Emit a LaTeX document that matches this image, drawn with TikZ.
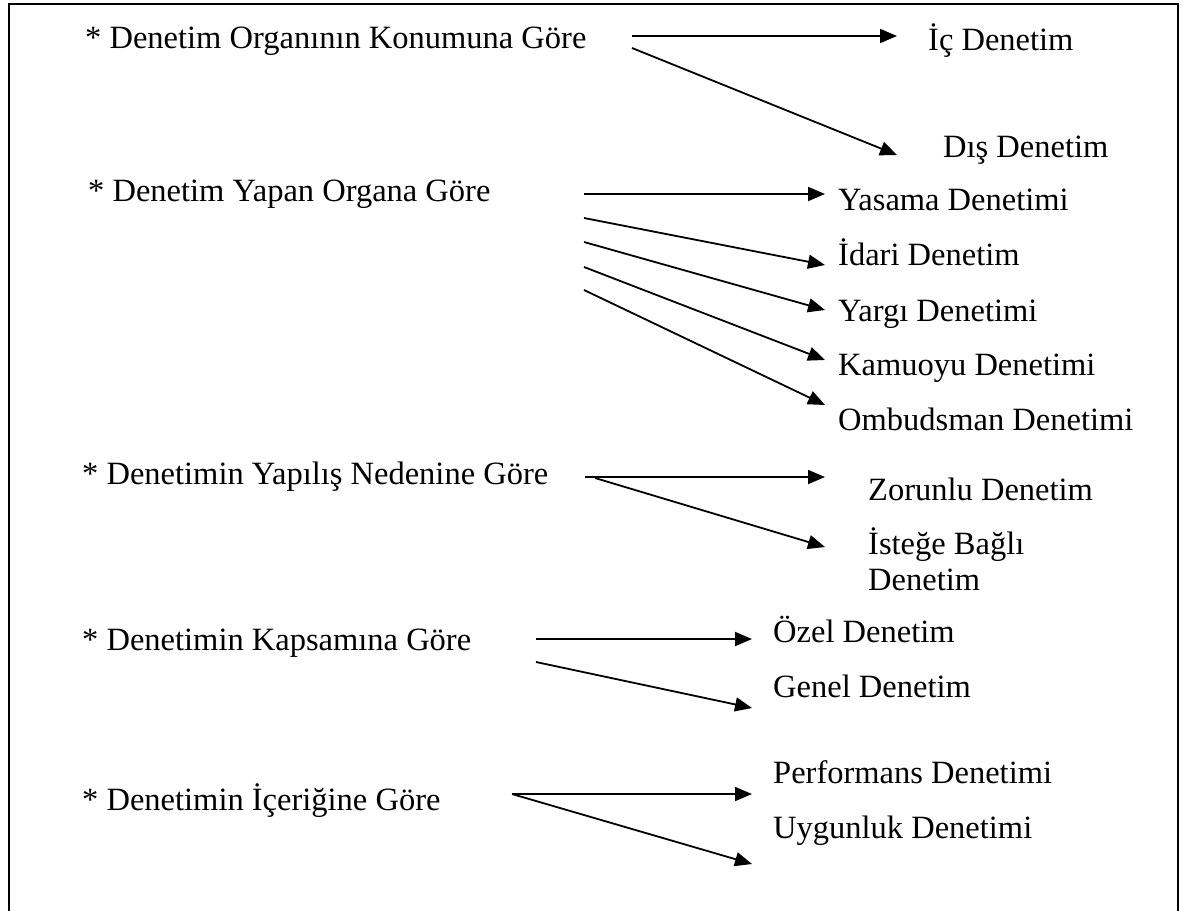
\documentclass[tikz,border=0pt]{standalone}
\usepackage{fontspec}
\setmainfont{Liberation Serif}
\usetikzlibrary{arrows.meta}
\begin{document}
\begin{tikzpicture}[x=1pt,y=-1pt,
  lbl/.style={anchor=base west,inner sep=0pt,font=\fontsize{32.5}{36}\selectfont},
  arr/.style={line width=1.8pt,-{Triangle[length=17pt,width=14pt]}},
  frame/.style={line width=1.6pt}]
\useasboundingbox (0,0) rectangle (1185,910);
\draw[frame] (9,915) -- (9,4) -- (1178,4) -- (1178,915);
% left labels
\node[lbl] (k1) at (85,48) {* Denetim Organının Konumuna Göre};
\node[lbl] (k2) at (88,201) {* Denetim Yapan Organa Göre};
\node[lbl] (k3) at (82,484) {* Denetimin Yapılış Nedenine Göre};
\node[lbl] (k4) at (82,650) {* Denetimin Kapsamına Göre};
\node[lbl] (k5) at (82,810) {* Denetimin İçeriğine Göre};
% right labels
\node[lbl] (r11) at (928,50) {İç Denetim};
\node[lbl] (r12) at (943,157) {Dış Denetim};
\node[lbl] (r21) at (838,210) {Yasama Denetimi};
\node[lbl] (r22) at (838,265) {İdari Denetim};
\node[lbl] (r23) at (838,321) {Yargı Denetimi};
\node[lbl] (r24) at (838,375) {Kamuoyu Denetimi};
\node[lbl] (r25) at (838,430) {Ombudsman Denetimi};
\node[lbl] (r31) at (868,500) {Zorunlu Denetim};
\node[lbl,align=left] (r32) at (868,590) {İsteğe Bağlı\\Denetim};
\node[lbl] (r41) at (773,642) {Özel Denetim};
\node[lbl] (r42) at (773,697) {Genel Denetim};
\node[lbl] (r51) at (773,783) {Performans Denetimi};
\node[lbl] (r52) at (773,838) {Uygunluk Denetimi};
% arrow coordinates
\coordinate (s11) at (632,36);  \coordinate (e11) at (897,36);
\coordinate (s12) at (632,48);  \coordinate (e12) at (897,155);
\coordinate (s21) at (584,194); \coordinate (e21) at (825,194);
\coordinate (s22) at (584,218); \coordinate (e22) at (825,265);
\coordinate (s23) at (584,242); \coordinate (e23) at (825,310);
\coordinate (s24) at (584,267); \coordinate (e24) at (825,360);
\coordinate (s25) at (584,290); \coordinate (e25) at (825,405);
\coordinate (s31) at (585,477); \coordinate (e31) at (825,477);
\coordinate (s32) at (595,478); \coordinate (e32) at (825,547);
\coordinate (s41) at (536,639); \coordinate (e41) at (752,639);
\coordinate (s42) at (536,662); \coordinate (e42) at (752,708);
\coordinate (s51) at (512,794); \coordinate (e51) at (752,794);
\coordinate (s52) at (512,794); \coordinate (e52) at (752,864);
\foreach \a in {11,12,21,22,23,24,25,31,32,41,42,51,52}
  \draw[arr] (s\a) -- (e\a);
\end{tikzpicture}
\end{document}
